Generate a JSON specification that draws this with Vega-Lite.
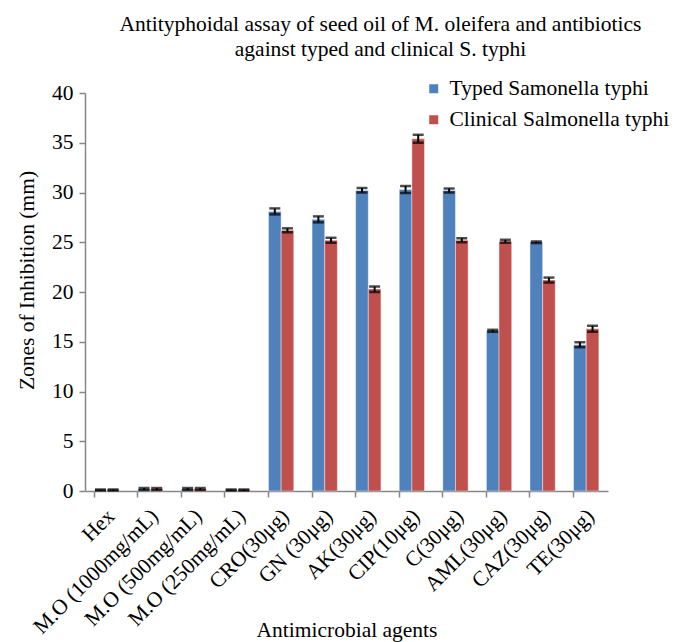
{
  "$schema": "https://vega.github.io/schema/vega-lite/v6.json",
  "autosize": "none",
  "width": 523,
  "height": 398,
  "padding": {"left": 85, "top": 93, "right": 68, "bottom": 151},
  "background": "white",
  "config": {
    "font": "Liberation Serif",
    "view": {"stroke": null}
  },
  "title": {
    "text": ["Antityphoidal assay of seed oil of M. oleifera and antibiotics", "against typed and clinical S. typhi"],
    "font": "Liberation Serif",
    "fontSize": 21.5,
    "fontWeight": "normal",
    "color": "black",
    "anchor": "middle",
    "frame": "group",
    "dx": 34,
    "lineHeight": 25,
    "orient": "top",
    "offset": 18
  },
  "data": {
    "values": [
      {"agent": "Hex", "strain": "Typed Samonella typhi", "value": 0.1, "lo": 0.05, "hi": 0.15},
      {"agent": "Hex", "strain": "Clinical Salmonella typhi", "value": 0.1, "lo": 0.05, "hi": 0.15},
      {"agent": "M.O (1000mg/mL)", "strain": "Typed Samonella typhi", "value": 0.2, "lo": 0.1, "hi": 0.3},
      {"agent": "M.O (1000mg/mL)", "strain": "Clinical Salmonella typhi", "value": 0.2, "lo": 0.1, "hi": 0.3},
      {"agent": "M.O (500mg/mL)", "strain": "Typed Samonella typhi", "value": 0.2, "lo": 0.1, "hi": 0.3},
      {"agent": "M.O (500mg/mL)", "strain": "Clinical Salmonella typhi", "value": 0.2, "lo": 0.1, "hi": 0.3},
      {"agent": "M.O (250mg/mL)", "strain": "Typed Samonella typhi", "value": 0.1, "lo": 0.05, "hi": 0.15},
      {"agent": "M.O (250mg/mL)", "strain": "Clinical Salmonella typhi", "value": 0.1, "lo": 0.05, "hi": 0.15},
      {"agent": "CRO(30μg)", "strain": "Typed Samonella typhi", "value": 28.1, "lo": 27.8, "hi": 28.4},
      {"agent": "CRO(30μg)", "strain": "Clinical Salmonella typhi", "value": 26.2, "lo": 26.0, "hi": 26.4},
      {"agent": "GN (30μg)", "strain": "Typed Samonella typhi", "value": 27.3, "lo": 27.0, "hi": 27.6},
      {"agent": "GN (30μg)", "strain": "Clinical Salmonella typhi", "value": 25.2, "lo": 24.95, "hi": 25.45},
      {"agent": "AK(30μg)", "strain": "Typed Samonella typhi", "value": 30.2, "lo": 30.0, "hi": 30.45},
      {"agent": "AK(30μg)", "strain": "Clinical Salmonella typhi", "value": 20.3, "lo": 20.0, "hi": 20.55},
      {"agent": "CIP(10μg)", "strain": "Typed Samonella typhi", "value": 30.3, "lo": 29.95, "hi": 30.65},
      {"agent": "CIP(10μg)", "strain": "Clinical Salmonella typhi", "value": 35.4, "lo": 35.0, "hi": 35.8},
      {"agent": "C(30μg)", "strain": "Typed Samonella typhi", "value": 30.2, "lo": 30.0, "hi": 30.4},
      {"agent": "C(30μg)", "strain": "Clinical Salmonella typhi", "value": 25.2, "lo": 25.0, "hi": 25.4},
      {"agent": "AML(30μg)", "strain": "Typed Samonella typhi", "value": 16.1, "lo": 16.0, "hi": 16.2},
      {"agent": "AML(30μg)", "strain": "Clinical Salmonella typhi", "value": 25.1, "lo": 24.95, "hi": 25.25},
      {"agent": "CAZ(30μg)", "strain": "Typed Samonella typhi", "value": 25.0, "lo": 24.92, "hi": 25.08},
      {"agent": "CAZ(30μg)", "strain": "Clinical Salmonella typhi", "value": 21.2, "lo": 20.95, "hi": 21.45},
      {"agent": "TE(30μg)", "strain": "Typed Samonella typhi", "value": 14.7, "lo": 14.45, "hi": 14.95},
      {"agent": "TE(30μg)", "strain": "Clinical Salmonella typhi", "value": 16.3, "lo": 16.0, "hi": 16.6}
    ]
  },
  "encoding": {
    "x": {
      "field": "agent",
      "type": "nominal",
      "sort": null,
      "scale": {"paddingInner": 0.42, "paddingOuter": 0.21},
      "axis": {
        "title": "Antimicrobial agents",
        "titleFont": "Liberation Serif",
        "titleFontSize": 21.5,
        "titleFontWeight": "normal",
        "titleColor": "black",
        "titleY": 145,
        "titleBaseline": "alphabetic",
        "labelAngle": -45,
        "labelFont": "Liberation Serif",
        "labelFontSize": 21.5,
        "labelColor": "black",
        "labelPadding": 8,
        "labelOffset": -3,
        "labelLimit": 300,
        "bandPosition": 0,
        "domainColor": "#868686",
        "domainWidth": 1.5,
        "tickColor": "#868686",
        "tickWidth": 1.5,
        "tickSize": 6
      }
    },
    "xOffset": {
      "field": "strain",
      "type": "nominal",
      "sort": ["Typed Samonella typhi", "Clinical Salmonella typhi"]
    }
  },
  "layer": [
    {
      "mark": {"type": "bar", "stroke": "#ffffff", "strokeOpacity": 0.5, "strokeWidth": 0.8},
      "encoding": {
        "y": {
          "field": "value",
          "type": "quantitative",
          "scale": {"domain": [0, 40]},
          "axis": {
            "title": "Zones of Inhibition (mm)",
            "titleFont": "Liberation Serif",
            "titleFontSize": 21.5,
            "titleFontWeight": "normal",
            "titleColor": "black",
            "titleX": -52,
            "titleY": 187,
            "titleAngle": -90,
            "titleAlign": "center",
            "titleBaseline": "alphabetic",
            "values": [0, 5, 10, 15, 20, 25, 30, 35, 40],
            "labelFont": "Liberation Serif",
            "labelFontSize": 21.5,
            "labelColor": "black",
            "labelPadding": 6,
            "grid": false,
            "domainColor": "#868686",
            "domainWidth": 1.5,
            "tickColor": "#868686",
            "tickWidth": 1.5,
            "tickSize": 6
          }
        },
        "color": {
          "field": "strain",
          "type": "nominal",
          "sort": ["Typed Samonella typhi", "Clinical Salmonella typhi"],
          "scale": {"domain": ["Typed Samonella typhi", "Clinical Salmonella typhi"], "range": ["#4F81BD", "#C0504D"]},
          "legend": {
            "title": null,
            "orient": "none",
            "legendX": 338,
            "legendY": -15,
            "symbolType": "square",
            "symbolSize": 81,
            "symbolStrokeWidth": 0,
            "labelFont": "Liberation Serif",
            "labelFontSize": 21.5,
            "labelColor": "black",
            "labelOffset": 5,
            "labelLimit": 400,
            "rowPadding": 8
          }
        }
      }
    },
    {
      "mark": {"type": "rule", "color": "black", "strokeWidth": 2},
      "encoding": {
        "y": {"field": "lo", "type": "quantitative"},
        "y2": {"field": "hi"}
      }
    },
    {
      "mark": {"type": "tick", "color": "black", "thickness": 2.5, "size": 11},
      "encoding": {
        "y": {"field": "lo", "type": "quantitative"}
      }
    },
    {
      "mark": {"type": "tick", "color": "black", "thickness": 2.5, "size": 11},
      "encoding": {
        "y": {"field": "hi", "type": "quantitative"}
      }
    }
  ]
}
